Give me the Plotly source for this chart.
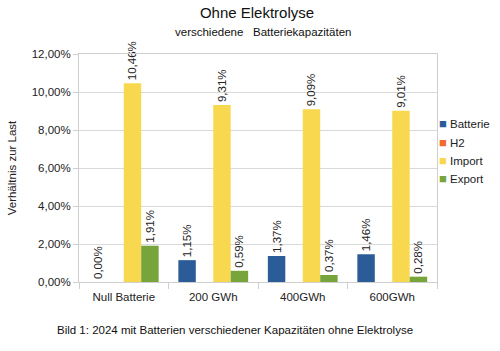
import plotly.graph_objects as go

categories = ["Null Batterie", "200 GWh", "400GWh", "600GWh"]
batterie = [0.0000, 0.0115, 0.0137, 0.0146]
h2 = [0, 0, 0, 0]
import_ = [0.1046, 0.0931, 0.0909, 0.0901]
export = [0.0191, 0.0059, 0.0037, 0.0028]

series = [
    ("Batterie", batterie, "#2b5c97", True),
    ("H2", h2, "#f26a2e", False),
    ("Import", import_, "#f8d84f", True),
    ("Export", export, "#78a53b", True),
]

FONT = "Liberation Sans, Arial, sans-serif"

fig = go.Figure()
for name, vals, color, labels in series:
    fig.add_trace(go.Bar(
        name=name, x=categories, y=vals,
        marker=dict(color=color, line=dict(width=0)),
        texttemplate="%{y:.2%}" if labels else None,
        textposition="outside" if labels else "none",
        textangle=-90,
        constraintext="none",
        cliponaxis=False,
        showlegend=False,
        textfont=dict(family=FONT, size=11.5, color="#222"),
    ))

annotations = [
    dict(text="verschiedene&nbsp;&nbsp; Batteriekapazitäten", xref="paper", yref="paper",
         x=0.514, y=(282 - 32) / 228, xanchor="center", yanchor="middle",
         showarrow=False, font=dict(size=11.5, color="#111")),
    dict(text="Bild 1: 2024 mit Batterien verschiedener Kapazitäten ohne Elektrolyse",
         xref="paper", yref="paper", x=(53 - 77) / 360, y=(282 - 330) / 228,
         xanchor="left", yanchor="middle", showarrow=False,
         font=dict(size=11.5, color="#111")),
]
# legend built as text entries (swatch + name)
for i, (name, vals, color, labels) in enumerate(series):
    ypx = 124 + 18 * i
    annotations.append(dict(
        text=f"<span style='color:{color};font-size:13px'>■</span> {name}",
        xref="paper", yref="paper", x=(437 - 77) / 360, y=(282 - ypx) / 228,
        xanchor="left", yanchor="middle", showarrow=False,
        font=dict(size=11.5, color="#222"),
    ))

fig.update_layout(
    width=500, height=351,
    margin=dict(l=77, r=63, t=54, b=69),
    paper_bgcolor="white", plot_bgcolor="white",
    separators=",.",
    barmode="group", bargap=0.22, bargroupgap=0,
    font=dict(family=FONT, size=11.5, color="#222"),
    showlegend=False,
    title=dict(text="Ohne Elektrolyse", x=0.514, xanchor="center",
               y=1 - 13 / 351, yanchor="middle",
               font=dict(family=FONT, size=15, color="#111")),
    xaxis=dict(showline=True, linecolor="#cfcfcf", linewidth=1, mirror=True,
               ticks="outside", ticklen=6, tickcolor="#cfcfcf",
               tickson="boundaries", showgrid=False, ticklabelstandoff=4,
               tickfont=dict(size=11.5)),
    yaxis=dict(range=[0, 0.12], dtick=0.02, tickformat=".2%",
               showline=True, linecolor="#cfcfcf", linewidth=1, mirror=True,
               ticks="outside", ticklen=5, tickcolor="#cfcfcf",
               gridcolor="#d9d9d9", gridwidth=1, zeroline=False,
               title=dict(text="Verhältnis zur Last", standoff=12,
                          font=dict(size=11.5)),
               tickfont=dict(size=11.5)),
    annotations=annotations,
)

fig.write_html("out.html")
